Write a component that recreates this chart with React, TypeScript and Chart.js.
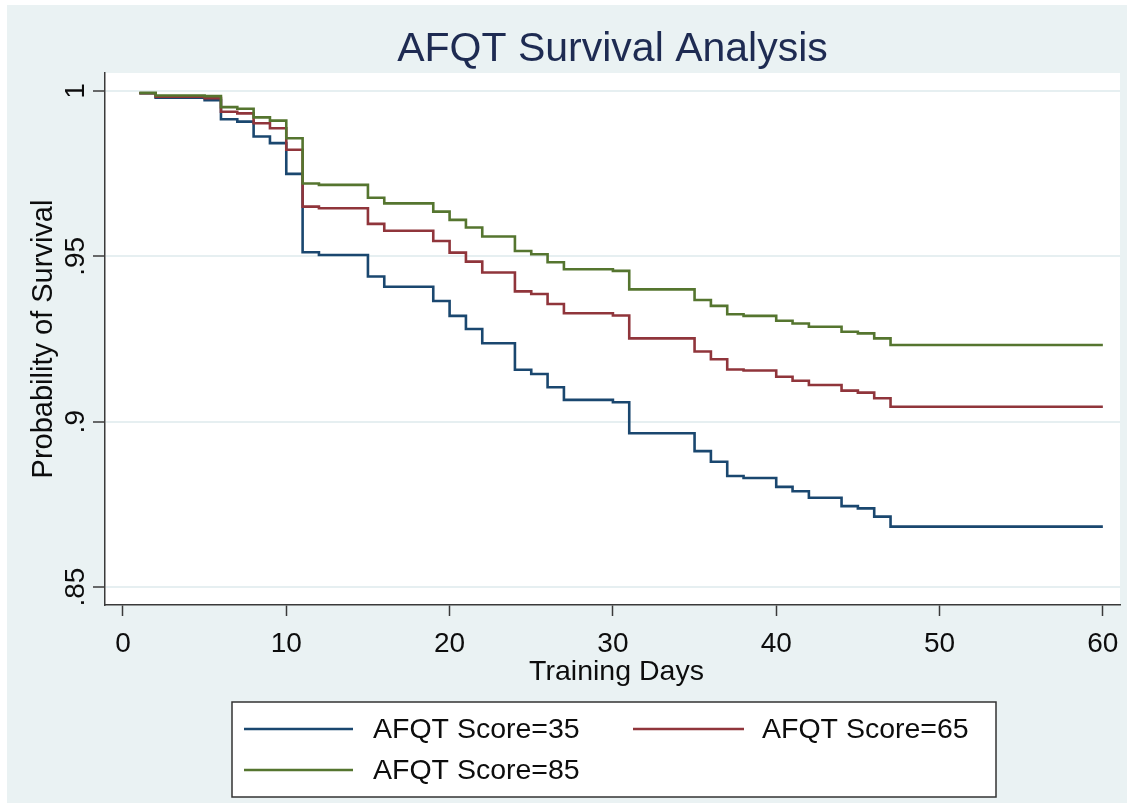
import React, { useEffect, useRef } from "react";
import { Chart, registerables } from "chart.js";

Chart.register(...registerables);

// Kaplan–Meier survival estimates by AFQT score, indexed by training day
const DAYS = [1, 2, 5, 6, 7, 8, 9, 10, 11, 12, 15, 16, 19, 20, 21, 22, 24, 25, 26, 27, 30, 31, 35, 36, 37, 38, 40, 41, 42, 44, 45, 46, 47, 60];

const SURV_35 = [0.9993, 0.9979, 0.9972, 0.9914, 0.9907, 0.9862, 0.9842, 0.9749, 0.9512, 0.9504, 0.9439, 0.9408, 0.9365, 0.932, 0.928, 0.9237, 0.9157, 0.9144, 0.9104, 0.9066, 0.9059, 0.8965, 0.8911, 0.8879, 0.8836, 0.883, 0.8803, 0.879, 0.877, 0.8745, 0.8738, 0.8713, 0.8683, 0.8683];

const SURV_65 = [0.9993, 0.9982, 0.9978, 0.9937, 0.9932, 0.9902, 0.9887, 0.9822, 0.965, 0.9645, 0.9598, 0.9577, 0.9546, 0.9511, 0.9484, 0.9451, 0.9394, 0.9386, 0.9356, 0.9328, 0.9321, 0.9252, 0.9212, 0.9189, 0.9158, 0.9155, 0.9136, 0.9124, 0.9111, 0.9094, 0.9088, 0.9071, 0.9045, 0.9045];

const SURV_85 = [0.9994, 0.9986, 0.9984, 0.9951, 0.9946, 0.992, 0.991, 0.9857, 0.972, 0.9716, 0.9677, 0.966, 0.9635, 0.961, 0.9587, 0.956, 0.9516, 0.9506, 0.9482, 0.9461, 0.9456, 0.94, 0.9368, 0.935, 0.9325, 0.932, 0.9305, 0.9297, 0.9287, 0.9272, 0.9267, 0.9252, 0.9232, 0.9232];

const SERIES_LABELS = ["AFQT Score=35", "AFQT Score=65", "AFQT Score=85"];
const SERIES_COLORS = ["#1A476F", "#90353B", "#55752F"];

const X_TICKS = [0, 10, 20, 30, 40, 50, 60];
const Y_TICKS = [0.85, 0.9, 0.95, 1];
const Y_TICK_LABELS = [".85", ".9", ".95", "1"];

const TITLE = "AFQT Survival Analysis";
const X_TITLE = "Training Days";
const Y_TITLE = "Probability of Survival";

const FONT = '"Liberation Sans", Arial, Helvetica, sans-serif';
const BG = "#EAF2F3";
const AXIS = "#3a3a3a";
const INK = "#0d0d0d";

const W = 1130;
const H = 806;

const toPoints = (vals: number[]) => DAYS.map((d, i) => ({ x: d, y: vals[i] }));

const backdrop = {
  id: "backdrop",
  beforeDraw(chart: any) {
    const { ctx, chartArea } = chart;
    ctx.save();
    ctx.fillStyle = "#ffffff";
    ctx.fillRect(0, 0, W, H);
    ctx.fillStyle = BG;
    ctx.fillRect(7, 5, W - 10, H - 8);
    ctx.fillStyle = "#ffffff";
    ctx.fillRect(chartArea.left, chartArea.top, chartArea.right - chartArea.left, chartArea.bottom - chartArea.top);
    ctx.restore();
  },
};

const annotations = {
  id: "annotations",
  afterDraw(chart: any) {
    const { ctx, chartArea, scales } = chart;
    const xs = scales.x;
    const ys = scales.y;
    ctx.save();

    // title
    ctx.fillStyle = "#1E2B52";
    ctx.font = `41px ${FONT}`;
    ctx.textAlign = "center";
    ctx.textBaseline = "alphabetic";
    ctx.fillText(TITLE, 612.5, 61);

    // x tick labels
    ctx.fillStyle = INK;
    ctx.font = `28px ${FONT}`;
    xs.ticks.forEach((t: any) => {
      ctx.fillText(String(t.value), xs.getPixelForValue(t.value), 652);
    });

    // x title
    ctx.font = `28.5px ${FONT}`;
    ctx.fillText(X_TITLE, (chartArea.left + chartArea.right) / 2 + 4, 680);

    // y tick labels, rotated
    ctx.font = `28px ${FONT}`;
    ys.ticks.forEach((t: any) => {
      const idx = Y_TICKS.indexOf(t.value);
      const label = idx >= 0 ? Y_TICK_LABELS[idx] : String(t.value);
      ctx.save();
      ctx.translate(84, ys.getPixelForValue(t.value));
      ctx.rotate(-Math.PI / 2);
      ctx.textAlign = "center";
      ctx.fillText(label, 0, 0);
      ctx.restore();
    });

    // y title
    ctx.save();
    ctx.font = `29px ${FONT}`;
    ctx.translate(52, (chartArea.top + chartArea.bottom) / 2);
    ctx.rotate(-Math.PI / 2);
    ctx.textAlign = "center";
    ctx.fillText(Y_TITLE, 0, 0);
    ctx.restore();

    // legend
    ctx.fillStyle = "#ffffff";
    ctx.fillRect(232, 702, 764, 95);
    ctx.strokeStyle = "#333333";
    ctx.lineWidth = 1.5;
    ctx.strokeRect(232, 702, 764, 95);

    const slots = [
      { x0: 244, x1: 353, tx: 373, y: 729 },
      { x0: 633, x1: 744, tx: 762, y: 729 },
      { x0: 244, x1: 353, tx: 373, y: 770 },
    ];
    chart.data.datasets.forEach((ds: any, i: number) => {
      const s = slots[i];
      ctx.strokeStyle = ds.borderColor;
      ctx.lineWidth = 2.5;
      ctx.beginPath();
      ctx.moveTo(s.x0, s.y);
      ctx.lineTo(s.x1, s.y);
      ctx.stroke();
      ctx.fillStyle = INK;
      ctx.font = `28.5px ${FONT}`;
      ctx.textAlign = "left";
      ctx.textBaseline = "middle";
      ctx.fillText(ds.label, s.tx, s.y + 1);
    });

    ctx.restore();
  },
};

export default function App() {
  const canvasRef = useRef<HTMLCanvasElement | null>(null);

  useEffect(() => {
    document.body.style.margin = "0";
    const canvas = canvasRef.current;
    if (!canvas) return;

    const series = [SURV_35, SURV_65, SURV_85];
    const chart = new Chart(canvas, {
      type: "line",
      data: {
        datasets: series.map((vals, i) => ({
          label: SERIES_LABELS[i],
          data: toPoints(vals),
          borderColor: SERIES_COLORS[i],
          backgroundColor: SERIES_COLORS[i],
          borderWidth: 2.6,
          stepped: true,
          pointRadius: 0,
          fill: false,
          order: 2 - i,
        })),
      },
      options: {
        responsive: false,
        animation: false,
        devicePixelRatio: 1,
        layout: { padding: { top: 73, right: 10, left: 0, bottom: 0 } },
        plugins: {
          legend: { display: false },
          title: { display: false },
          tooltip: { enabled: false },
        },
        scales: {
          x: {
            type: "linear",
            min: -1.1,
            max: 61.05,
            afterBuildTicks: (scale: any) => {
              scale.ticks = X_TICKS.map((v) => ({ value: v }));
            },
            afterFit: (scale: any) => {
              scale.height = 201;
            },
            ticks: { display: false },
            grid: {
              drawOnChartArea: false,
              drawTicks: true,
              tickLength: 11,
              tickColor: AXIS,
              tickWidth: 1.5,
            },
            border: { display: true, color: AXIS, width: 1.5 },
          },
          y: {
            type: "linear",
            min: 0.8446,
            max: 1.0054,
            afterBuildTicks: (scale: any) => {
              scale.ticks = Y_TICKS.map((v) => ({ value: v }));
            },
            afterFit: (scale: any) => {
              scale.width = 105;
            },
            ticks: { display: false },
            grid: {
              color: "#E6EFF1",
              lineWidth: 2,
              drawTicks: true,
              tickLength: 12,
              tickColor: AXIS,
              tickWidth: 1.5,
            },
            border: { display: true, color: AXIS, width: 1.5 },
          },
        },
      },
      plugins: [backdrop, annotations],
    });

    return () => chart.destroy();
  }, []);

  return (
    <div style={{ width: W, height: H }}>
      <canvas ref={canvasRef} width={W} height={H} style={{ display: "block" }} />
    </div>
  );
}
